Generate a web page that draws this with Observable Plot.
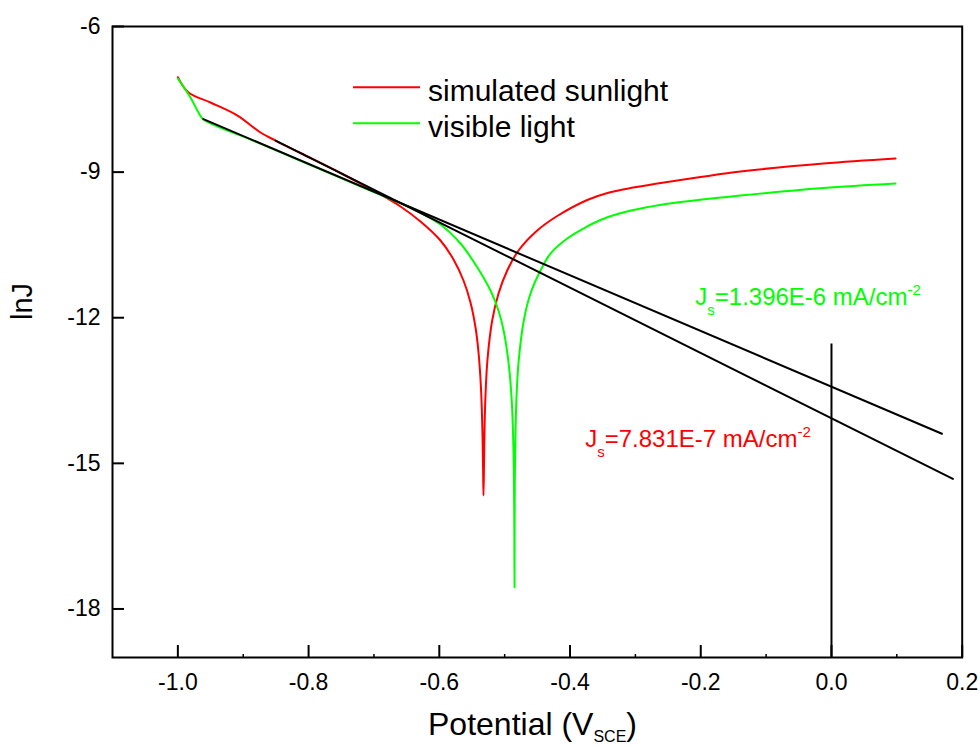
<!DOCTYPE html>
<html>
<head>
<meta charset="utf-8">
<script src="https://cdn.jsdelivr.net/npm/d3@7"></script>
<script src="https://cdn.jsdelivr.net/npm/@observablehq/plot@0.6"></script>
<style>
  html, body { margin: 0; padding: 0; background: #fff; }
  svg { display: block; }
</style>
</head>
<body>
<div id="chart"></div>
<script>
// ---- data ----
const seriesNames = ["simulated sunlight", "visible light"];
const seriesColors = ["#ff0000", "#00ff00"];

// simulated sunlight (red)
const redX = [-1.000, -0.9837, -0.9501, -0.9088, -0.8736, -0.8506, -0.8124, -0.7512, -0.6900, -0.6594, -0.6288, -0.5982, -0.5783, -0.5630, -0.5523, -0.5446, -0.5400, -0.5362, -0.5339, -0.5330, -0.5324, -0.5316, -0.5308, -0.5293, -0.5263, -0.5191, -0.5094, -0.4961, -0.4788, -0.4502, -0.4196, -0.3737, -0.3427, -0.3075, -0.2662, -0.2004, -0.1392, -0.0122, 0.0980];
const redY = [-7.045, -7.360, -7.566, -7.834, -8.184, -8.349, -8.606, -9.018, -9.461, -9.708, -10.017, -10.409, -10.800, -11.233, -11.686, -12.201, -12.716, -13.458, -14.426, -15.147, -15.662, -15.003, -14.282, -13.581, -12.860, -12.057, -11.501, -11.027, -10.615, -10.203, -9.904, -9.574, -9.430, -9.327, -9.234, -9.101, -8.987, -8.822, -8.719];

// visible light (green)
const greenX = [-1.000, -0.9807, -0.9684, -0.9608, -0.8889, -0.8124, -0.7359, -0.6900, -0.6395, -0.5982, -0.5676, -0.5420, -0.5217, -0.5090, -0.5013, -0.4941, -0.4892, -0.4865, -0.4854, -0.4849, -0.4845, -0.4834, -0.4819, -0.4788, -0.4707, -0.4605, -0.4452, -0.4299, -0.4043, -0.3737, -0.3534, -0.3274, -0.2845, -0.2417, -0.1392, -0.0122, 0.0980];
const greenY = [-7.071, -7.463, -7.772, -7.916, -8.328, -8.767, -9.206, -9.467, -9.760, -10.079, -10.471, -10.959, -11.439, -11.871, -12.284, -12.922, -13.705, -14.735, -15.971, -17.558, -15.353, -14.344, -13.643, -12.922, -12.057, -11.501, -11.027, -10.677, -10.368, -10.120, -9.986, -9.863, -9.729, -9.636, -9.482, -9.327, -9.234];

// Tafel fit lines (black)
const fitVisibleX = [-0.961, 0.169];
const fitVisibleY = [-7.907, -14.39];
const fitSunX = [-0.8505, 0.1858];
const fitSunY = [-8.351, -15.32];

// vertical marker at 0 V
const markerX = [0];
const markerYTop = -12.54;

// axes
const xDomain = [-1.1, 0.2];
const yDomain = [-19, -6];
const xTicks = [-1.0, -0.8, -0.6, -0.4, -0.2, 0.0, 0.2];
const xMinorTicks = [-0.9, -0.7, -0.5, -0.3, -0.1, 0.1];
const yTicks = [-6, -9, -12, -15, -18];

// annotations
const annVisible = {x: -0.2076, y: -11.75, value: "=1.396E-6 mA/cm", sup: "-2"};
const annSun = {x: -0.376, y: -14.68, value: "=7.831E-7 mA/cm", sup: "-2"};

// ---- layout ----
const W = 980, H = 749;
const mTop = 26, mBottom = 92, mLeft = 112, mRight = 18.3;
const innerH = H - mTop - mBottom;
const innerW = W - mLeft - mRight;
const FONT = "Liberation Sans, Arial, Helvetica, sans-serif";

const toRows = (xs, ys) => xs.map((x, i) => ({x, y: ys[i]}));

const plot = Plot.plot({
  width: W,
  height: H,
  marginTop: mTop,
  marginBottom: mBottom,
  marginLeft: mLeft,
  marginRight: mRight,
  style: {fontFamily: FONT, background: "#fff", color: "#000"},
  x: {domain: xDomain},
  y: {domain: yDomain},
  marks: [
    Plot.line(toRows(redX, redY), {x: "x", y: "y", stroke: seriesColors[0], strokeWidth: 2, curve: "catmull-rom"}),
    Plot.line(toRows(greenX, greenY), {x: "x", y: "y", stroke: seriesColors[1], strokeWidth: 2, curve: "catmull-rom"}),
    Plot.line(toRows(fitVisibleX, fitVisibleY), {x: "x", y: "y", stroke: "#000", strokeWidth: 2}),
    Plot.line(toRows(fitSunX, fitSunY), {x: "x", y: "y", stroke: "#000", strokeWidth: 2}),
    Plot.ruleX(markerX, {y1: markerYTop, y2: yDomain[0], stroke: "#000", strokeWidth: 2}),
    // inward ticks
    Plot.ruleX(xTicks, {insetTop: innerH - 12, stroke: "#000", strokeWidth: 2}),
    Plot.ruleX(xMinorTicks, {insetTop: innerH - 3, stroke: "#000", strokeWidth: 1.5}),
    Plot.ruleY(yTicks, {insetRight: innerW - 12, stroke: "#000", strokeWidth: 2}),
    Plot.frame({stroke: "#000", strokeWidth: 2}),
    Plot.axisX({ticks: xTicks, tickSize: 0, tickPadding: 16, fontSize: 23, tickFormat: d => d.toFixed(1), label: null}),
    Plot.axisY({ticks: yTicks, tickSize: 0, tickPadding: 12, fontSize: 23, tickFormat: d => String(d), label: null})
  ]
});

document.getElementById("chart").appendChild(plot);

const svg = d3.select(plot);
const sx = plot.scale("x"), sy = plot.scale("y");

// legend
const legendY = [87.3, 123.3];
seriesNames.forEach((name, i) => {
  svg.append("line")
    .attr("x1", 353).attr("x2", 420)
    .attr("y1", legendY[i]).attr("y2", legendY[i])
    .attr("stroke", seriesColors[i]).attr("stroke-width", 2);
  svg.append("text")
    .attr("x", 428).attr("y", legendY[i] + 14)
    .attr("text-anchor", "start")
    .attr("fill", "#000")
    .style("font-family", FONT).style("font-size", "30px")
    .text(name);
});

// annotations with sub/superscripts
function annotate(a, color) {
  const t = svg.append("text")
    .attr("x", sx.apply(a.x)).attr("y", sy.apply(a.y))
    .attr("text-anchor", "start")
    .attr("fill", color)
    .style("font-family", FONT).style("font-size", "24px");
  t.append("tspan").text("J");
  t.append("tspan").attr("dy", 10).style("font-size", "15px").text("s");
  t.append("tspan").attr("dy", -10).text(a.value);
  t.append("tspan").attr("dy", -10).style("font-size", "15px").text(a.sup);
}
annotate(annVisible, seriesColors[1]);
annotate(annSun, seriesColors[0]);

// axis titles
const xl = svg.append("text")
  .attr("x", 637).attr("y", 735)
  .attr("text-anchor", "end")
  .attr("fill", "#000")
  .style("font-family", FONT).style("font-size", "32px");
xl.append("tspan").text("Potential (V");
xl.append("tspan").attr("dy", 7).style("font-size", "16px").text("SCE");
xl.append("tspan").attr("dy", -7).text(")");

svg.append("text")
  .attr("transform", "translate(32,301.5) rotate(-90)")
  .attr("text-anchor", "middle")
  .attr("fill", "#000")
  .style("font-family", FONT).style("font-size", "29px")
  .text("lnJ");
</script>
</body>
</html>
